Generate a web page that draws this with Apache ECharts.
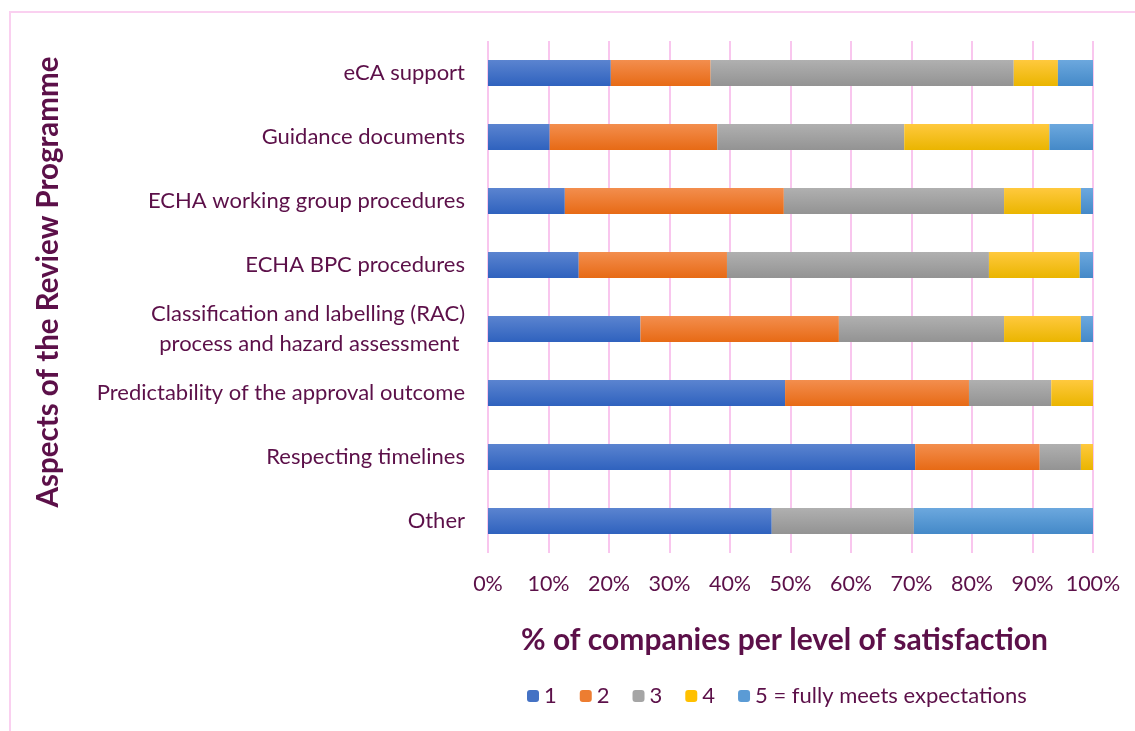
<!DOCTYPE html>
<html>
<head>
<meta charset="utf-8">
<script src="https://cdn.jsdelivr.net/npm/echarts@6/dist/echarts.min.js"></script>
<style>
html,body{margin:0;padding:0;background:#fff;}
#c{width:1135px;height:731px;}
</style>
</head>
<body>
<div id="c"></div>
<script>
const categories = ["Other","Respecting timelines","Predictability of the approval outcome","Classification and labelling (RAC)\nprocess and hazard assessment ","ECHA BPC procedures","ECHA working group procedures","Guidance documents","eCA support"];
const seriesNames = ["1","2","3","4","5 = fully meets expectations"];
const level1 = [46.9, 70.6, 49.1, 25.2, 15.0, 12.7, 10.2, 20.3];
const level2 = [0, 20.6, 30.4, 32.8, 24.5, 36.2, 27.7, 16.5];
const level3 = [23.5, 6.8, 13.6, 27.3, 43.3, 36.4, 30.9, 50.1];
const level4 = [0, 2.0, 6.9, 12.7, 15.0, 12.7, 24.0, 7.3];
const level5 = [29.6, 0, 0, 2.0, 2.2, 2.0, 7.2, 5.8];
const xTicks = [0,10,20,30,40,50,60,70,80,90,100];
const yTitle = 'Aspects of the Review Programme';
const xTitle = '% of companies per level of satisfaction';

const textColor = '#5C1049';
const font = 'Lato, "Open Sans", sans-serif';
const grads = [
  ['#5B84D0','#2F62BE'],
  ['#F38E4E','#E76A15'],
  ['#B0B0B0','#939393'],
  ['#FFC93E','#EAB500'],
  ['#6CA8DE','#4489C8']
];
const solid = ['#4472C4','#ED7D31','#A5A5A5','#FFC000','#5B9BD5'];
const values = [level1, level2, level3, level4, level5];

function grad(i){
  return new echarts.graphic.LinearGradient(0,0,0,1,[{offset:0,color:grads[i][0]},{offset:1,color:grads[i][1]}]);
}

const chart = echarts.init(document.getElementById('c'));
chart.setOption({
  animation:false,
  backgroundColor:'#fff',
  graphic:[
    {type:'rect',shape:{x:10,y:12,width:1140,height:740},style:{fill:'none',stroke:'#FAD0F0',lineWidth:2},silent:true,z:-1},
    {type:'text', x:48, y:282, rotation:Math.PI/2,
     style:{text:yTitle, fill:textColor, font:'bold 29.5px Lato, "Open Sans", sans-serif', align:'center', verticalAlign:'middle'}}
  ],
  legend:{
    top:680, left:522, itemWidth:12, itemHeight:12, itemGap:23,
    textStyle:{color:textColor, fontSize:22, fontFamily:font},
    data: seriesNames.map((n,i)=>({name:n, itemStyle:{color:solid[i]}}))
  },
  grid:{left:488, right:42, top:41, bottom:178, containLabel:false, outerBoundsMode:'none'},
  xAxis:{
    type:'value', min:0, max:100, interval:10,
    axisLabel:{formatter:v=>v+'%', color:textColor, fontSize:21.5, fontFamily:font, margin:20},
    splitLine:{show:true, lineStyle:{color:'#F9C6EE', width:2}},
    axisLine:{show:false}, axisTick:{show:false},
    name:xTitle, nameLocation:'middle', nameGap:72,
    nameTextStyle:{color:textColor, fontSize:30, fontWeight:'bold', fontFamily:font, padding:[0,12,0,0]}
  },
  yAxis:{
    type:'category', data:categories,
    axisLabel:{color:textColor, fontSize:22, fontFamily:font, margin:23, lineHeight:30},
    axisLine:{show:false}, axisTick:{show:false}
  },
  series: values.map((arr,i)=>({
    name:seriesNames[i], type:'bar', stack:'total', data:arr, barWidth:26,
    itemStyle:{color:grad(i)}
  }))
});
</script>
</body>
</html>
